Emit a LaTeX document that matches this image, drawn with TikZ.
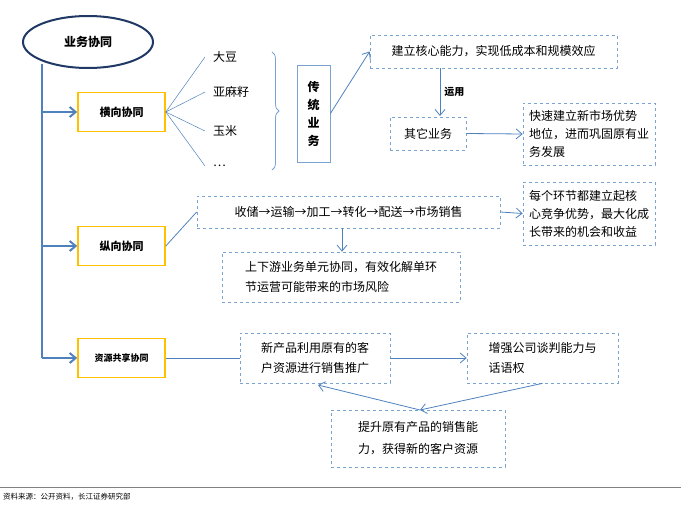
\documentclass[tikz,border=0pt]{standalone}
\usepackage{fontspec}
\setmainfont{Noto Sans CJK SC}
\usetikzlibrary{arrows.meta,decorations.pathreplacing,shapes.geometric}
\definecolor{lb}{HTML}{4F81BD}
\definecolor{db}{HTML}{7BA3CF}
\definecolor{nv}{HTML}{1F3864}
\definecolor{og}{HTML}{FFC000}
\begin{document}
\begin{tikzpicture}[x=1pt,y=-1pt,
  every node/.style={font=\fontsize{12}{17}\selectfont, inner sep=0pt},
  ybox/.style={draw=og, line width=1.6pt, minimum width=87pt, minimum height=39pt, font=\fontsize{11}{14}\selectfont\bfseries},
  dbox/.style={draw=db, dashed, line width=0.7pt, align=left, inner sep=6pt},
  ln/.style={draw=lb, line width=0.8pt},
  ar/.style={ln, -{Straight Barb[length=6pt,width=10pt]}}]
\useasboundingbox (0,0) rectangle (681,511);
\node[draw=nv, line width=2pt, ellipse, minimum width=130pt, minimum height=52pt, font=\fontsize{12}{14}\selectfont\bfseries] (root) at (88,42) {业务协同};
\node[ybox] (h) at (121.5,112) {横向协同};
\node[ybox] (z) at (121.5,246) {纵向协同};
\node[ybox, font=\fontsize{9}{11}\selectfont\bfseries] (s) at (121.5,358) {资源共享协同};
\coordinate (top) at (42,64);
\coordinate (bot) at (42,358);
\draw[lb, line width=2.2pt] (top) -- (bot);
\coordinate (hb) at (42,112); \coordinate (zb) at (42,246);
\draw[ar, line width=2pt] (hb) -- (h.west);
\draw[ar, line width=2pt] (zb) -- (z.west);
\draw[ar, line width=2pt] (bot) -- (s.west);
\node[anchor=west] (i1) at (213,57) {大豆};
\node[anchor=west] (i2) at (213,92) {亚麻籽};
\node[anchor=west] (i3) at (213,131) {玉米};
\node[anchor=west] (i4) at (213,166) {…};
\foreach \i in {i1,i2,i3,i4} \draw[ln, line width=0.5pt] (h.east) -- ([xshift=-8pt]\i.west);
\coordinate (b1) at (272,52); \coordinate (b2) at (272,170);
\draw[db, line width=0.8pt, decorate, decoration={brace, amplitude=7pt}] (b1) -- (b2);
\node[draw=db, line width=0.8pt, minimum width=33pt, minimum height=97pt, align=center, font=\fontsize{12}{18}\selectfont\bfseries] (ct) at (313.5,113.5) {传\\统\\业\\务};
\node[dbox, minimum width=247pt, minimum height=33pt, align=center] (c1) at (493.5,51.5) {建立核心能力，实现低成本和规模效应};
\draw[ar] (ct.east) -- (c1.west);
\node[dbox, minimum width=76pt, minimum height=33pt, align=center] (qt) at (428,133.5) {其它业务};
\draw[ar] (440,68) -- node[right=4pt, font=\fontsize{10}{12}\selectfont\bfseries]{运用} (440,116);
\node[dbox, minimum width=132pt, minimum height=62pt, font=\fontsize{12}{18}\selectfont] (ks) at (589,134) {快速建立新市场优势\\地位，进而巩固原有业\\务发展};
\draw[ar] (qt.east) -- (ks.west);
\node[dbox, minimum width=303pt, minimum height=32pt, align=center] (ch) at (348.5,212) {收储→运输→加工→转化→配送→市场销售};
\draw[ln] (z.east) -- (ch.west);
\node[dbox, minimum width=132pt, minimum height=63pt, font=\fontsize{12}{18}\selectfont] (mg) at (589,213.5) {每个环节都建立起核\\心竞争优势，最大化成\\长带来的机会和收益};
\draw[ar] (ch.east) -- (mg.west);
\node[dbox, minimum width=238pt, minimum height=50pt, font=\fontsize{12}{20}\selectfont] (sx) at (341,277) {上下游业务单元协同，有效化解单环\\节运营可能带来的市场风险};
\draw[ar] (342,228) -- (sx.north -| 342,0);
\node[dbox, minimum width=150pt, minimum height=50pt, font=\fontsize{12}{20}\selectfont] (xc) at (315,358) {新产品利用原有的客\\户资源进行销售推广};
\draw[ln] (s.east) -- (xc.west);
\node[dbox, minimum width=151pt, minimum height=50pt, font=\fontsize{12}{20}\selectfont] (zq) at (542.5,358) {增强公司谈判能力与\\话语权};
\draw[ar] (xc.east) -- (zq.west);
\node[dbox, minimum width=174pt, minimum height=57pt, font=\fontsize{12}{22}\selectfont] (ts) at (418,438.5) {提升原有产品的销售能\\力，获得新的客户资源};
\coordinate (tt) at (420,410);
\draw[ar] (zq.south) -- (tt);
\draw[ar] (tt) -- (318,385);
\draw[gray, line width=0.8pt] (0,487) -- (681,487);
\node[anchor=west, font=\fontsize{7.5}{9}\selectfont] (src) at (3,497) {资料来源：公开资料，长江证券研究部};
\end{tikzpicture}
\end{document}
